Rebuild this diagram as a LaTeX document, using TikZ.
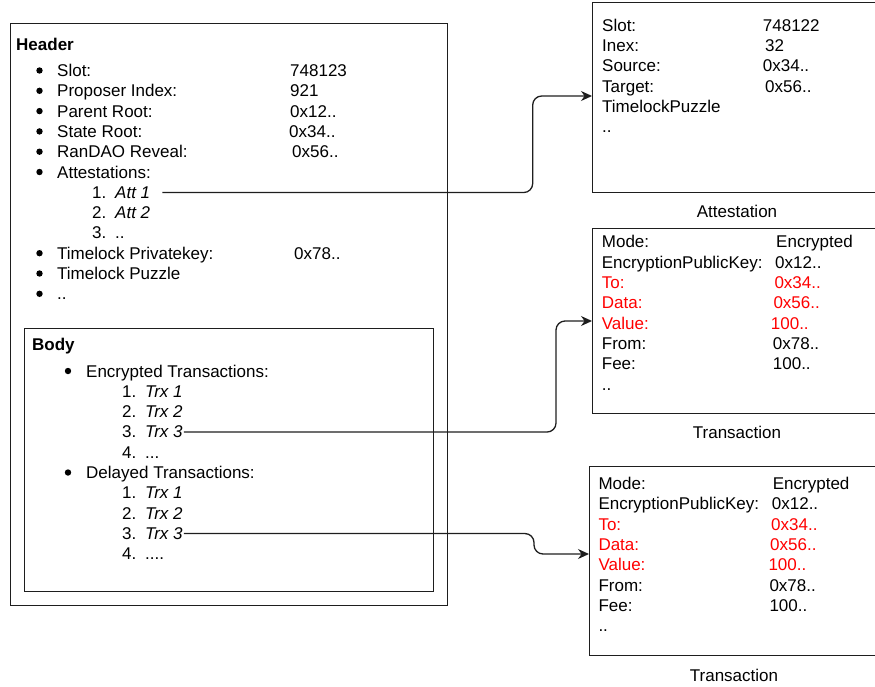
\documentclass[tikz,border=0pt]{standalone}
\usepackage{fontspec}
\setmainfont{Liberation Sans}
\usetikzlibrary{arrows.meta}
\definecolor{redtxt}{RGB}{255,0,0}
\definecolor{linec}{RGB}{30,30,30}
\begin{document}
\begin{tikzpicture}[x=1pt,y=-1pt,
  box/.style={draw=linec, line width=1.3pt, anchor=north west, inner sep=0, minimum width=290pt},
  t/.style={anchor=base west, inner sep=0, font=\fontsize{17}{20}\selectfont},
  ti/.style={t, font=\fontsize{17}{20}\selectfont\itshape},
  tb/.style={t, font=\fontsize{17}{20}\selectfont\bfseries},
  bul/.style={circle, fill=black, inner sep=0, minimum size=6.4pt, yshift=6pt},
  rt/.style={t, text=redtxt},
  lbl/.style={anchor=base, inner sep=0, font=\fontsize{17}{20}\selectfont},
  conn/.style={draw=linec, line width=1.3pt, rounded corners=9pt, -{Stealth[length=11pt,width=10pt]}},
]
\useasboundingbox (0,0) rectangle (875,686);

% ---------- boxes ----------
\node[box, minimum width=437pt, minimum height=582pt] (header) at (10,23) {};
\node[box, minimum width=409pt, minimum height=263pt] (body) at (24,328) {};
\node[box, minimum height=190pt] (attbox) at (592,2) {};
\node[box, minimum height=185pt] (tx1box) at (592,228) {};
\node[box, minimum height=189pt] (tx2box) at (589,466) {};

% ---------- header ----------
\node[tb] (htitle) at (16,50) {Header};
\foreach \i/\y/\l in {1/76.5/Slot:, 2/96.8/Proposer Index:, 3/117.1/Parent Root:,
  4/137.4/State Root:, 5/157.7/RanDAO Reveal:, 6/178/Attestations:,
  7/259.2/Timelock Privatekey:, 8/279.5/Timelock Puzzle, 9/299.8/..}{
  \node[bul] (hb\i) at (39.5,\y) {};
  \node[t] (hl\i) at (57,\y) {\l};
}
\node[t] (hv1) at (290,76.5) {748123};
\node[t] (hv2) at (290,96.8) {921};
\node[t] (hv3) at (290,117.1) {0x12..};
\node[t] (hv4) at (289,137.4) {0x34..};
\node[t] (hv5) at (292,157.7) {0x56..};
\node[t] (hv7) at (294,259.2) {0x78..};
\node[t] (an1) at (92,198.3) {1.};
\node[ti] (att1) at (115,198.3) {Att 1};
\node[t] (an2) at (92,218.6) {2.};
\node[ti] (att2) at (115,218.6) {Att 2};
\node[t] (an3) at (92,238.9) {3.};
\node[t] (att3) at (115,238.9) {..};

% ---------- body ----------
\node[tb] (btitle) at (32,350) {Body};
\node[bul] (bb1) at (68,377) {};
\node[t] (bl1) at (86,377) {Encrypted Transactions:};
\node[bul] (bb2) at (68,478.5) {};
\node[t] (bl2) at (86,478.5) {Delayed Transactions:};
\node[t] (en1) at (122,397.3) {1.};
\node[ti] (trx1a) at (145,397.3) {Trx 1};
\node[t] (en2) at (122,417.6) {2.};
\node[ti] (trx2a) at (145,417.6) {Trx 2};
\node[t] (en3) at (122,437.9) {3.};
\node[ti] (trx3a) at (145,437.9) {Trx 3};
\node[t] (en4) at (122,458.2) {4.};
\node[t] (trx4a) at (145,458.2) {...};
\node[t] (dn1) at (122,498.8) {1.};
\node[ti] (trx1b) at (145,498.8) {Trx 1};
\node[t] (dn2) at (122,519.1) {2.};
\node[ti] (trx2b) at (145,519.1) {Trx 2};
\node[t] (dn3) at (122,539.4) {3.};
\node[ti] (trx3b) at (145,539.4) {Trx 3};
\node[t] (dn4) at (122,559.7) {4.};
\node[t] (trx4b) at (145,559.7) {....};

% ---------- attestation ----------
\node[t] (ak1) at (602,31) {Slot:};
\node[t] (ak2) at (602,51) {Inex:};
\node[t] (ak3) at (602,71.5) {Source:};
\node[t] (ak4) at (602,92) {Target:};
\node[t] (ak5) at (602,112) {TimelockPuzzle};
\node[t] (ak6) at (602,132) {..};
\node[t] (av1) at (762.7,31) {748122};
\node[t] (av2) at (765,51) {32};
\node[t] (av3) at (762.7,71.5) {0x34..};
\node[t] (av4) at (765,92) {0x56..};
\node[lbl] (attlbl) at (737,217) {Attestation};

% ---------- transaction 1 ----------
\node[t]  (tk1) at (601.7,247.7) {Mode:};
\node[t]  (tk2) at (601.7,268) {EncryptionPublicKey:};
\node[rt] (tk3) at (601.7,288.3) {To:};
\node[rt] (tk4) at (601.7,308.6) {Data:};
\node[rt] (tk5) at (601.7,329) {Value:};
\node[t]  (tk6) at (601.7,349.3) {From:};
\node[t]  (tk7) at (601.7,369.6) {Fee:};
\node[t]  (tk8) at (601.7,390) {..};
\node[t]  (tv1) at (776,247.7) {Encrypted};
\node[t]  (tv2) at (775,268) {0x12..};
\node[rt] (tv3) at (774.3,288.3) {0x34..};
\node[rt] (tv4) at (773.3,308.6) {0x56..};
\node[rt] (tv5) at (770.7,329) {100..};
\node[t]  (tv6) at (772.7,349.3) {0x78..};
\node[t]  (tv7) at (772.7,369.6) {100..};
\node[lbl] (tx1lbl) at (737,438.3) {Transaction};

% ---------- transaction 2 ----------
\node[t]  (sk1) at (598.3,489.3) {Mode:};
\node[t]  (sk2) at (598.3,509.6) {EncryptionPublicKey:};
\node[rt] (sk3) at (598.3,530) {To:};
\node[rt] (sk4) at (598.3,550.3) {Data:};
\node[rt] (sk5) at (598.3,570.6) {Value:};
\node[t]  (sk6) at (598.3,591) {From:};
\node[t]  (sk7) at (598.3,611.3) {Fee:};
\node[t]  (sk8) at (598.3,631.6) {..};
\node[t]  (sv1) at (772.7,489.3) {Encrypted};
\node[t]  (sv2) at (771.7,509.6) {0x12..};
\node[rt] (sv3) at (771,530) {0x34..};
\node[rt] (sv4) at (770,550.3) {0x56..};
\node[rt] (sv5) at (768.3,570.6) {100..};
\node[t]  (sv6) at (769.3,591) {0x78..};
\node[t]  (sv7) at (769.3,611.3) {100..};
\node[lbl] (tx2lbl) at (734,681.7) {Transaction};

% ---------- connectors ----------
\coordinate (c1) at (532.7,96);
\coordinate (c2) at (556,321);
\coordinate (c3) at (534,554);
\draw[conn] ([xshift=12pt]att1.east) -- (att1.east -| c1) -- (c1) -- (attbox.west |- c1);
\draw[conn] ([xshift=1pt]trx3a.east) -- (trx3a.east -| c2) -- (c2) -- (tx1box.west |- c2);
\draw[conn] ([xshift=1pt]trx3b.east) -- (trx3b.east -| c3) -- (c3) -- (tx2box.west |- c3);
\end{tikzpicture}
\end{document}
